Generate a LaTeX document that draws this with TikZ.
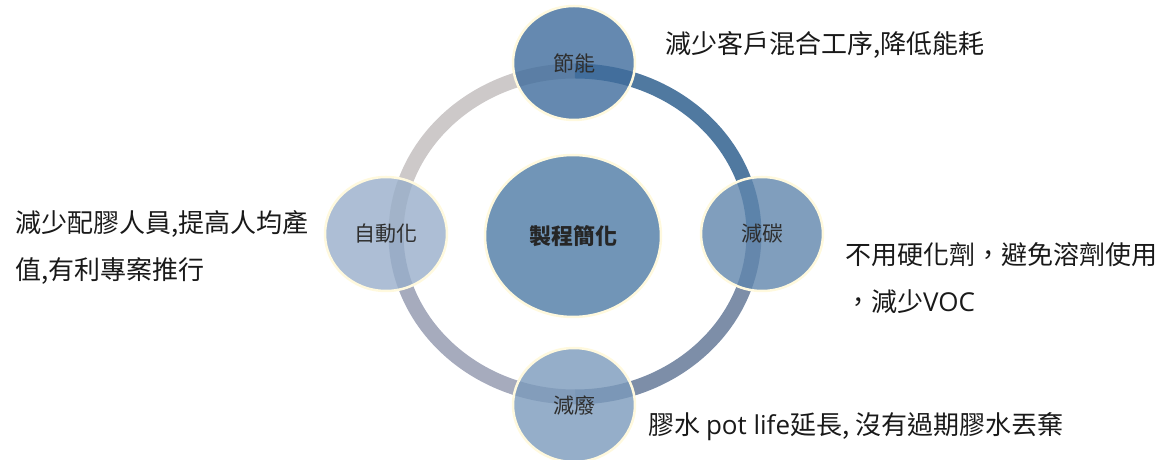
\documentclass[tikz,border=0pt]{standalone}
\usepackage{fontspec}
\setmainfont{Noto Sans CJK TC}
\newfontfamily\latinfont{Open Sans}
\usetikzlibrary{positioning, shapes.geometric}
\definecolor{rim}{HTML}{FFF9DE}
\definecolor{hubfill}{HTML}{7195B7}
\definecolor{topfill}{HTML}{3F6C9C}
\definecolor{rightfill}{HTML}{6086AD}
\definecolor{bottomfill}{HTML}{7B9ABB}
\definecolor{leftfill}{HTML}{98AECA}
\definecolor{arcNW}{HTML}{CDC9C9}
\definecolor{arcNE}{HTML}{5079A0}
\definecolor{arcSE}{HTML}{7D8EA8}
\definecolor{arcSW}{HTML}{A6ABBD}
\definecolor{labelgray}{HTML}{2E2E2E}
\tikzset{x=1pt, y=1pt,
         on grid,
         hub/.style={ellipse, draw=rim, line width=2.5pt, fill=hubfill,
                     minimum width=176pt, minimum height=162pt, inner sep=0pt,
                     font=\fontsize{22}{26}\selectfont\bfseries, text=black!85},
         stage/.style={ellipse, draw=rim, line width=2.5pt, fill opacity=0.8,
                       text opacity=1, minimum width=122pt, minimum height=114pt,
                       inner sep=0pt, font=\fontsize{21}{24}\selectfont, text=labelgray},
         band/.style={line width=15pt},
         note/.style={anchor=west, align=left, inner sep=0pt,
                      font=\fontsize{26}{47}\selectfont, text=black!90},
         }

\begin{document}
\begin{tikzpicture}
    \useasboundingbox (0,0) rectangle (1163,460);

    % ring under the stages
    \coordinate (ringW) at (396,226);
    \coordinate (ringN) at (575,389);
    \coordinate (ringE) at (754,226);
    \coordinate (ringS) at (575,63);
    \draw[band, arcNW] (ringW) arc[start angle=180, end angle=90, x radius=179, y radius=163];
    \draw[band, arcNE] (ringN) arc[start angle=90, end angle=0, x radius=179, y radius=163];
    \draw[band, arcSE] (ringE) arc[start angle=0, end angle=-90, x radius=179, y radius=163];
    \draw[band, arcSW] (ringS) arc[start angle=-90, end angle=-180, x radius=179, y radius=163];

    \node[hub] (core) at (573,224) {製程簡化};
    \node[stage, fill=topfill, above=173pt of core, xshift=1pt] (energy) {節能};
    \node[stage, fill=rightfill, right=189pt of core, yshift=2pt] (carbon) {減碳};
    \node[stage, fill=bottomfill, below=169pt of core, xshift=1pt] (waste) {減廢};
    \node[stage, fill=leftfill, left=187pt of core, yshift=2pt] (auto) {自動化};

    \node[note] (energyNote) at (665,415) {減少客戶混合工序,降低能耗};
    \node[note] (carbonNote) at (845,182) {不用硬化劑，避免溶劑使用\\，減少{\latinfont VOC}};
    \node[note] (wasteNote) at (648,33) {膠水 {\latinfont pot life}延長, 沒有過期膠水丟棄};
    \node[note] (autoNote) at (15,213) {減少配膠人員,提高人均產\\值,有利專案推行};
\end{tikzpicture}
\end{document}
